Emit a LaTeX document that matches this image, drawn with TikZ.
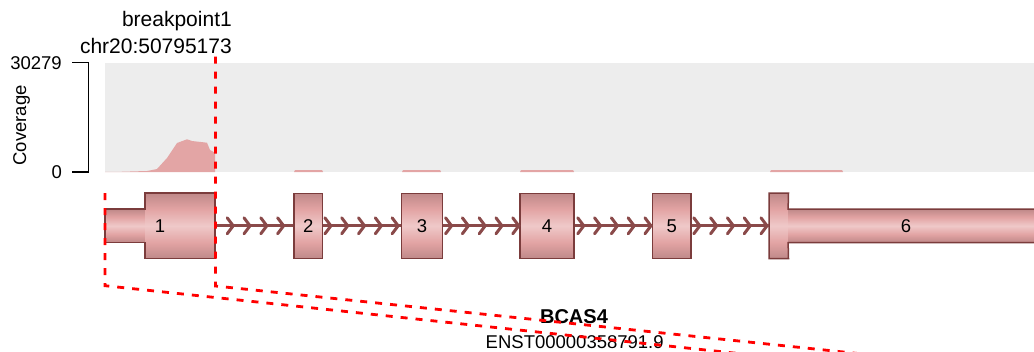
\documentclass[tikz,border=0pt]{standalone}
\usepackage{fontspec}
\setmainfont{Liberation Sans}
\usetikzlibrary{calc}
\definecolor{covbg}{HTML}{EDEDED}
\definecolor{covfill}{HTML}{E3A5A5}
\definecolor{exborder}{HTML}{7B3C3C}
\definecolor{intcol}{HTML}{8A4A4A}
\definecolor{exdark}{HTML}{BF8989}
\definecolor{exmid}{HTML}{E2A3A3}
\definecolor{exlight}{HTML}{EFC9C9}
\pgfdeclareverticalshading{exonshade}{100bp}{color(0bp)=(exdark); color(25bp)=(exdark); color(37bp)=(exmid); color(50bp)=(exlight); color(63bp)=(exmid); color(75bp)=(exdark); color(100bp)=(exdark)}
\newcommand{\lblsize}{\fontsize{18.5}{22}\selectfont}
\newcommand{\bpsize}{\fontsize{21}{26.6}\selectfont}
\newcommand{\gnsize}{\fontsize{20}{24}\selectfont}

\begin{document}
\begin{tikzpicture}[x=1pt,y=-1pt,
	exon/.style={rectangle,draw=exborder,line width=1.5pt,shading=exonshade,inner sep=0pt,minimum height=65pt,font=\lblsize},
	exonpart/.style={rectangle,shading=exonshade,inner sep=0pt,minimum height=65pt},
	utr/.style={rectangle,shading=exonshade,inner sep=0pt,minimum height=33pt},
	exline/.style={draw=exborder,line width=1.5pt,line join=miter},
	intron/.style={intcol,line width=3pt},
	chev/.style={intcol,line width=3pt,line cap=round},
	bpline/.style={red,line width=2.8pt,dash pattern=on 7pt off 8pt},
	lbl/.style={inner sep=0pt,font=\lblsize}]
	\clip (0,0) rectangle (1034,351);
	% coverage track
	\fill[covbg] (105,62.7) rectangle (1034,172);
	\fill[covfill] (105,172) -- (120,171.8) -- (147,171) -- (157,169) -- (167,158) -- (177,143) -- (187,139.3) -- (192,141) -- (207,142.7) -- (210,150) -- (215,152.7) -- (215,172) -- cycle;
	\foreach \xa/\xb in {294/323,402/441,520/574,770/843}
		\fill[covfill] (\xa,172) -- (\xa+1,170) -- (\xb-1,170) -- (\xb,172) -- cycle;
	\draw[line width=1.5pt] (72,62.7) -- (88.5,62.7) -- (88.5,172) -- (72,172);
	\node[lbl,anchor=east] (ymax) at (62,62.7) {30279};
	\node[lbl,anchor=east] (ymin) at (62,172) {0};
	\node[lbl,rotate=90] (ytitle) at (21.7,125.5) {Coverage};
	% exons
	\node[utr,minimum width=40pt] (u1) at (125.3,225.8) {};
	\node[exonpart,minimum width=70pt] (e1) at (180,225.8) {};
	\draw[exline] (u1.north west) -- (u1.north west -| e1.west) -- (e1.north west) -- (e1.north east) -- (e1.south east) -- (e1.south west) -- (u1.south west -| e1.west) -- (u1.south west) -- cycle;
	\node[lbl] (n1) at (160,225.8) {1};
	\node[exon,minimum width=28.7pt] (e2) at (308.3,225.8) {2};
	\node[exon,minimum width=40.6pt] (e3) at (422,225.8) {3};
	\node[exon,minimum width=54pt] (e4) at (547,225.8) {4};
	\node[exon,minimum width=38.7pt] (e5) at (671.7,225.8) {5};
	\node[exonpart,minimum width=19pt] (e6) at (778.8,225.8) {};
	\node[utr,minimum width=254.4pt] (u6) at (915.5,225.8) {};
	\draw[exline] (e6.south west) -- (e6.north west) -- (e6.north east) -- (u6.north west) -- (u6.north east) -- (u6.south east) -- (u6.south west) -- (e6.south east) -- cycle;
	\node[lbl] (n6) at (906,225.8) {6};
	% introns
	\foreach \ea/\eb/\sh/\nc in {e1/e2/18/3,e2/e3/7.5/4,e3/e4/8.5/4,e4/e5/9/4,e5/e6/8/4}{
		\draw[intron] (\ea.east) -- (\eb.west);
		\foreach \kk in {0,...,\nc}
			\draw[chev] ($(\ea.east)+(\sh+16.8*\kk-6,-8)$) -- ++(6,8) -- ++(-6,8);}
	% names
	\node[lbl,font=\bpsize,align=right,anchor=base east] (bp) at (232,53.3) {breakpoint1\\chr20:50795173};
	\node[inner sep=0pt,font=\gnsize\bfseries,anchor=base] (gname) at (574,323.3) {BCAS4};
	\node[lbl,anchor=base] (tname) at (574.7,348.3) {ENST00000358791.9};
	% breakpoint
	\coordinate (bptop) at (215.5,56.5);
	\coordinate (bpfoot) at (215.5,286);
	\coordinate (bpend) at (919.6,360);
	\coordinate (ltop) at (105,193);
	\coordinate (lfoot) at (105,285.7);
	\coordinate (lend) at (799,360);
	\draw[bpline] (bptop) -- (bpfoot) -- (bpend);
	\draw[bpline] (ltop) -- (lfoot) -- (lend);
\end{tikzpicture}
\end{document}
